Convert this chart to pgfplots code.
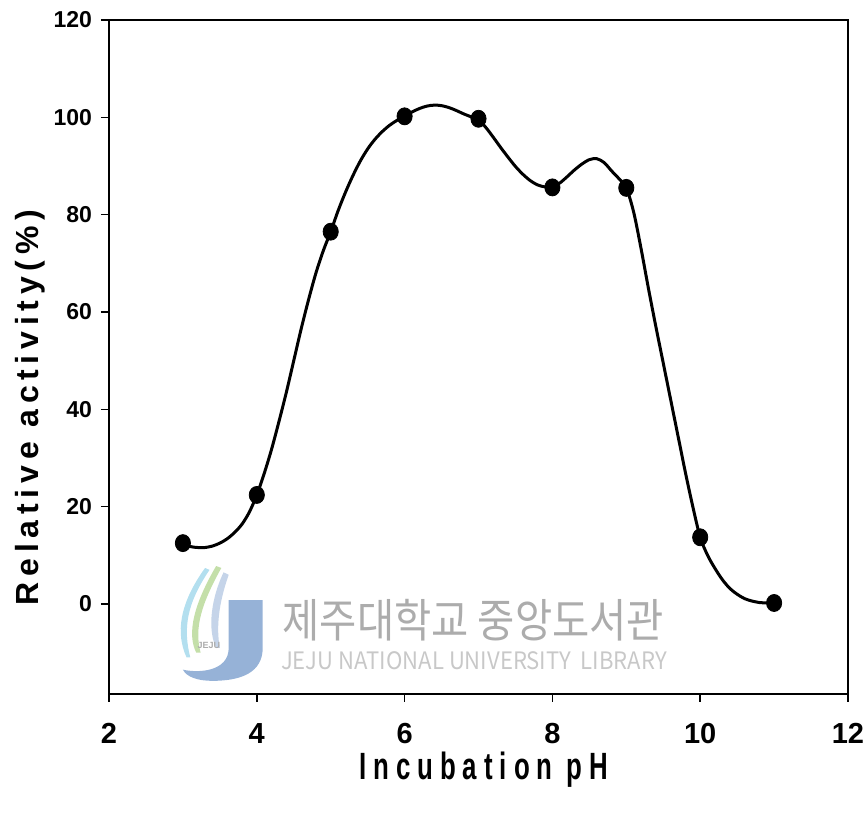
\documentclass[border=0pt]{standalone}
\usepackage{fontspec}
\setmainfont{Liberation Sans}
\newfontfamily\ylabfont[LetterSpace=18]{Liberation Sans}
\newfontfamily\xlabfont[LetterSpace=27]{Liberation Sans}
\newfontfamily\krfont{Noto Sans CJK KR}
\usepackage{pgfplots}
\pgfplotsset{compat=1.18}

% measured activity at each incubation pH
\pgfplotstableread{
ph  act
3   12.5
4   22.4
5   76.5
6   100.2
7   99.7
8   85.6
9   85.5
10  13.7
11  0.2
}\activity

% fitted curve through the measurements
\pgfplotstableread{
ph    act
3.0   12.5
3.1   11.8
3.2   11.6
3.3   11.6
3.4   11.9
3.5   12.5
3.6   13.4
3.7   14.7
3.8   16.4
3.9   18.9
4.0   22.4
4.1   26.8
4.2   31.8
4.3   37.5
4.4   43.5
4.5   50.0
4.6   56.5
4.7   62.5
4.8   68.0
4.9   72.6
5.0   76.5
5.1   80.8
5.2   84.6
5.3   88.0
5.4   91.0
5.5   93.5
5.6   95.5
5.7   97.1
5.8   98.4
5.9   99.4
6.0   100.3
6.1   101.1
6.2   101.8
6.3   102.3
6.4   102.5
6.5   102.4
6.6   102.0
6.7   101.4
6.8   100.7
6.9   100.1
7.0   99.5
7.1   97.9
7.2   95.9
7.3   93.8
7.4   91.8
7.5   89.9
7.6   88.3
7.7   87.0
7.8   86.1
7.9   85.7
8.0   85.7
8.1   86.5
8.2   87.8
8.3   89.2
8.4   90.4
8.5   91.3
8.6   91.5
8.7   90.7
8.8   89.0
8.9   87.4
9.0   85.5
9.1   80.5
9.2   73.0
9.3   64.8
9.4   57.0
9.5   49.5
9.6   42.0
9.7   34.5
9.8   27.0
9.9   20.0
10.0  13.7
10.1  10.0
10.2  7.3
10.3  5.0
10.4  3.2
10.5  2.0
10.6  1.1
10.7  0.6
10.8  0.3
10.9  0.2
11.0  0.2
}\fitcurve

\definecolor{wmgray}{RGB}{172,172,172}
\definecolor{wmlight}{RGB}{200,200,200}
\definecolor{wmblue}{RGB}{150,178,215}
\definecolor{wmsky}{RGB}{160,215,235}
\definecolor{wmgreen}{RGB}{190,220,160}

\begin{document}
\begin{tikzpicture}
\begin{axis}[
  name=ax,
  scale only axis, width=369.5pt, height=337pt,
  xmin=2, xmax=12, ymin=-18.5, ymax=120,
  xtick={2,4,...,12}, ytick={0,20,...,120},
  axis line style={line width=1pt},
  tick style={black, line width=0.8pt},
  tick align=outside, major tick length=4pt,
  xtick pos=bottom, ytick pos=left,
  /pgf/number format/assume math mode=true,
  xticklabel style={font=\fontsize{14.5}{16}\selectfont\bfseries, yshift=-7pt},
  yticklabel style={font=\fontsize{11.5}{13}\selectfont\bfseries, xshift=-1pt},
  xlabel={\scalebox{0.68}[1]{\xlabfont\bfseries Incubation pH}},
  ylabel={\ylabfont\bfseries Relative~activity(\%)},
  every axis x label/.style={at={(axis description cs:0.507,-0.113)}, anchor=center,
    font=\fontsize{19}{21}\selectfont},
  every axis y label/.style={at={(axis description cs:-0.107,0.425)}, anchor=center,
    rotate=90, font=\fontsize{16}{18}\selectfont},
  clip=false,
]
% library watermark
\fill[wmsky, opacity=0.8] (axis cs:3.30,7.4) .. controls (axis cs:2.95,0) and (axis cs:2.90,-6) .. (axis cs:3.05,-11)
  -- (axis cs:3.10,-11) .. controls (axis cs:3.0,-5) and (axis cs:3.05,0) .. (axis cs:3.36,7.0) -- cycle;
\fill[wmgreen, opacity=0.9] (axis cs:3.45,7.8) .. controls (axis cs:3.15,0) and (axis cs:3.05,-6) .. (axis cs:3.18,-10)
  -- (axis cs:3.24,-10) .. controls (axis cs:3.15,-5) and (axis cs:3.25,0) .. (axis cs:3.52,7.4) -- cycle;
\fill[wmblue!70, opacity=0.8] (axis cs:3.55,6.5) .. controls (axis cs:3.35,0) and (axis cs:3.35,-6) .. (axis cs:3.45,-9)
  -- (axis cs:3.50,-9) .. controls (axis cs:3.45,-5) and (axis cs:3.48,0) .. (axis cs:3.62,6.0) -- cycle;
\fill[wmblue] (axis cs:3.62,0.8) -- (axis cs:4.08,0.8) -- (axis cs:4.08,-9)
  .. controls (axis cs:4.08,-14) and (axis cs:3.8,-15.8) .. (axis cs:3.40,-15.8)
  .. controls (axis cs:3.20,-15.8) and (axis cs:3.05,-15) .. (axis cs:3.00,-13.5)
  .. controls (axis cs:3.2,-14.2) and (axis cs:3.62,-14) .. (axis cs:3.62,-9) -- cycle;
\node[wmgray, font=\fontsize{4.5}{5}\selectfont\bfseries] at (axis cs:3.35,-8.5) {JEJU};
\node[wmgray, font=\krfont\fontsize{23}{26}\selectfont] at (axis cs:6.93,-3.3)
  {\scalebox{0.88}[1]{제주대학교 중앙도서관}};
\node[wmlight, font=\krfont\fontsize{12}{14}\selectfont] at (axis cs:6.94,-11.6)
  {\scalebox{0.92}[1]{JEJU NATIONAL UNIVERSITY\ \ LIBRARY}};

\addplot[black, line width=1.5pt, smooth] table[x=ph, y=act] {\fitcurve};
\addplot[only marks, mark=*, mark size=3.8pt, mark options={black, yscale=1.12}]
  table[x=ph, y=act] {\activity};
\end{axis}
\pgfresetboundingbox
\path ([shift={(-54.5pt,-61.5pt)}]ax.south west) rectangle ([shift={(10pt,10pt)}]ax.north east);
\end{tikzpicture}
\end{document}
